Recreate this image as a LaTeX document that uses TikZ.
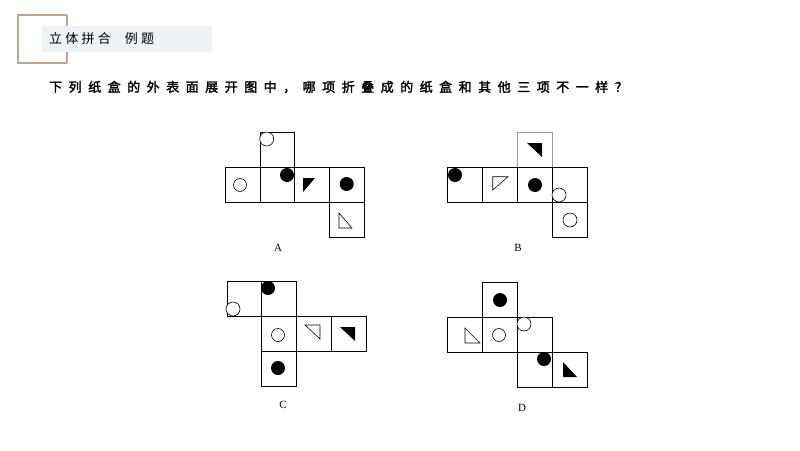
\documentclass[tikz,border=0pt]{standalone}
\usepackage{fontspec}
\newfontfamily\cjk[LetterSpace=25]{Noto Sans CJK SC}
\newfontfamily\cjkb[LetterSpace=50,FakeBold=2]{Noto Sans CJK SC}
\setmainfont{Liberation Serif}
\begin{document}
\begin{tikzpicture}[x=1pt,y=-1pt,
  cell/.style={draw=black,line width=0.9pt},
  cellg/.style={draw=gray!80,line width=0.9pt},
  hol/.style={draw=black,line width=0.6pt,fill=white},
  blk/.style={fill=black},
  lab/.style={font=\fontsize{11}{11}\selectfont}]
\useasboundingbox (0,0) rectangle (800,450);
\fill[white] (0,0) rectangle (800,450);
% header
\draw[color={rgb,255:red,190;green,165;blue,145},line width=1.2pt] (67,15) -- (18,15) -- (18,63) -- (67,63);
\draw[color={rgb,255:red,190;green,165;blue,145},line width=1.2pt] (67,15) -- (67,27) (67,52) -- (67,63);
\fill[color={rgb,255:red,238;green,242;blue,245}] (42,26) rectangle (212,52);
\node[anchor=west,inner sep=0] (title) at (49,39) {\cjk\fontsize{13}{13}\selectfont 立体拼合\hspace{14pt}例题};
\node[anchor=west,inner sep=0] (q) at (49,87) {\cjkb\fontsize{13}{13}\selectfont 下列纸盒的外表面展开图中，哪项折叠成的纸盒和其他三项不一样？};
% A
\draw[cell] (260,132) rectangle (294.5,167);
\draw[cell] (225,167) rectangle (260,202);
\draw[cell] (260,167) rectangle (294.5,202);
\draw[cell] (294.5,167) rectangle (329,202);
\draw[cell] (329,167) rectangle (364,202);
\draw[cell] (329,202) rectangle (364,237);
\draw[hol] (266.7,139) circle (7);
\draw[hol] (240,185) circle (6.5);
\fill[blk] (287,175) circle (7);
\fill[blk] (303,178) -- (315,178) -- (303,192) -- cycle;
\fill[blk] (346.7,184) circle (7);
\draw[hol] (339,213) -- (339,228) -- (352,228) -- cycle;
\node[lab] (la) at (278,248) {A};
% B
\draw[cellg] (517,132) rectangle (552,167);
\draw[cell] (447,167) rectangle (482,202);
\draw[cell] (482,167) rectangle (517,202);
\draw[cell] (517,167) rectangle (552,202);
\draw[cell] (552,167) rectangle (587,202);
\draw[cell] (552,202) rectangle (587,237);
\fill[blk] (455,175) circle (7);
\draw[hol] (492.7,176.7) -- (508,176.7) -- (492.7,190) -- cycle;
\fill[blk] (535,185) circle (7);
\fill[blk] (527,143) -- (542,143) -- (542,157) -- cycle;
\draw[hol] (559,195) circle (7);
\draw[hol] (570,220) circle (7);
\node[lab] (lb) at (518,248) {B};
% C
\draw[cell] (227,281) rectangle (261,316);
\draw[cell] (261,281) rectangle (296,316);
\draw[cell] (261,316) rectangle (296,351);
\draw[cell] (296,316) rectangle (331,351);
\draw[cell] (331,316) rectangle (366,351);
\draw[cell] (261,351) rectangle (296,386);
\draw[hol] (233,309) circle (7);
\fill[blk] (268,288) circle (7);
\draw[hol] (278,335) circle (6.5);
\draw[hol] (305,325) -- (320,325) -- (320,339) -- cycle;
\fill[blk] (340,327) -- (355,327) -- (355,341) -- cycle;
\fill[blk] (278,368) circle (7);
\node[lab] (lc) at (283,405) {C};
% D
\draw[cell] (482,282) rectangle (517,317);
\draw[cell] (447,317) rectangle (482,352);
\draw[cell] (482,317) rectangle (517,352);
\draw[cell] (517,317) rectangle (552,352);
\draw[cell] (517,352) rectangle (552,387);
\draw[cell] (552,352) rectangle (587,387);
\fill[blk] (500,300) circle (7);
\draw[hol] (465,328) -- (465,343) -- (480,343) -- cycle;
\draw[hol] (499,335) circle (6.5);
\draw[hol] (524,324) circle (7);
\fill[blk] (544,359) circle (7);
\fill[blk] (563,362) -- (563,377) -- (577,377) -- cycle;
\node[lab] (ld) at (522,408) {D};
\end{tikzpicture}
\end{document}
